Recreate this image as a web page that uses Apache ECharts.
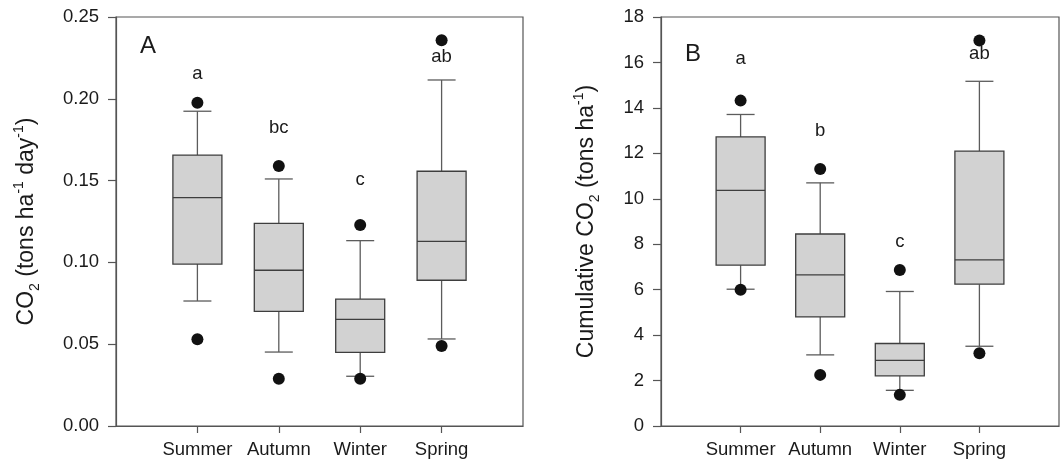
<!DOCTYPE html>
<html>
<head>
<meta charset="utf-8">
<script src="https://cdn.jsdelivr.net/npm/echarts@6/dist/echarts.min.js"></script>
<style>
html,body{margin:0;padding:0;background:#fff;}
#chart{width:1062px;height:463px;}
</style>
</head>
<body>
<div id="chart"></div>
<script>
// ---- Data ----
var categories = ['Summer', 'Autumn', 'Winter', 'Spring'];

// Panel A: CO2 (tons ha-1 day-1)
var aLow     = [0.0764, 0.0452, 0.0304, 0.0532];
var aQ1      = [0.0990, 0.0701, 0.0450, 0.0891];
var aMedian  = [0.1396, 0.0952, 0.0652, 0.1129];
var aQ3      = [0.1656, 0.1239, 0.0776, 0.1557];
var aHigh    = [0.1924, 0.1510, 0.1133, 0.2115];
var aOutHigh = [0.1976, 0.1589, 0.1229, 0.2358];
var aOutLow  = [0.0530, 0.0289, 0.0289, 0.0489];
var aLetters = ['a', 'bc', 'c', 'ab'];
var aLetterY = [0.2152, 0.1823, 0.1502, 0.2257];
var aTicks   = [0, 0.05, 0.10, 0.15, 0.20, 0.25];

// Panel B: Cumulative CO2 (tons ha-1)
var bLow     = [6.02, 3.13, 1.57, 3.51];
var bQ1      = [7.08, 4.80, 2.21, 6.24];
var bMedian  = [10.37, 6.65, 2.89, 7.31];
var bQ3      = [12.72, 8.45, 3.63, 12.10];
var bHigh    = [13.71, 10.70, 5.92, 15.17];
var bOutHigh = [14.32, 11.31, 6.87, 16.97];
var bOutLow  = [6.00, 2.25, 1.37, 3.20];
var bLetters = ['a', 'b', 'c', 'ab'];
var bLetterY = [16.15, 13.0, 8.1, 16.39];
var bTicks   = [0, 2, 4, 6, 8, 10, 12, 14, 16, 18];

// ---- Build ----
var FONT = "'Liberation Sans', Arial, Helvetica, sans-serif";
var AXIS_COLOR = '#555';
var TEXT_COLOR = '#1a1a1a';
var axisCats = [''].concat(categories).concat(['']);

function boxData(low, q1, med, q3, high) {
  return categories.map(function (c, i) {
    return [i + 1, low[i], q1[i], med[i], q3[i], high[i]];
  });
}
function pointData(vals) {
  return vals.map(function (v, i) { return [i + 1, v]; });
}
function letterData(letters, ys) {
  return letters.map(function (l, i) { return [i + 1, ys[i], l]; });
}

function renderBox(params, api) {
  var x = api.value(0);
  var pLow = api.coord([x, api.value(1)]);
  var pQ1 = api.coord([x, api.value(2)]);
  var pMed = api.coord([x, api.value(3)]);
  var pQ3 = api.coord([x, api.value(4)]);
  var pHigh = api.coord([x, api.value(5)]);
  var bw = 49, cw = 28;
  var cx = pMed[0];
  var whisk = {stroke: '#5c5c5c', lineWidth: 1.3};
  var edge = {stroke: '#3e3e3e', lineWidth: 1.3};
  return {
    type: 'group',
    children: [
      {type: 'line', shape: {x1: cx, y1: pHigh[1], x2: cx, y2: pQ3[1]}, style: whisk},
      {type: 'line', shape: {x1: cx, y1: pQ1[1], x2: cx, y2: pLow[1]}, style: whisk},
      {type: 'line', shape: {x1: cx - cw / 2, y1: pHigh[1], x2: cx + cw / 2, y2: pHigh[1]}, style: whisk},
      {type: 'line', shape: {x1: cx - cw / 2, y1: pLow[1], x2: cx + cw / 2, y2: pLow[1]}, style: whisk},
      {type: 'rect', shape: {x: cx - bw / 2, y: pQ3[1], width: bw, height: pQ1[1] - pQ3[1]},
        style: {fill: '#d2d2d2', stroke: '#3e3e3e', lineWidth: 1.3}},
      {type: 'line', shape: {x1: cx - bw / 2, y1: pMed[1], x2: cx + bw / 2, y2: pMed[1]}, style: edge}
    ]
  };
}

function xAxisDef(gi) {
  return {
    type: 'category', gridIndex: gi, data: axisCats, boundaryGap: false,
    axisLine: {show: true, lineStyle: {color: AXIS_COLOR, width: 1.2}},
    axisTick: {show: true, length: 7, lineStyle: {color: AXIS_COLOR, width: 1.2},
      interval: function (idx, val) { return val !== ''; }},
    axisLabel: {show: true, interval: 0, margin: 14, color: TEXT_COLOR, fontSize: 18.5, fontFamily: FONT},
    splitLine: {show: false}
  };
}
function yAxisDef(gi, ticks, fmt, name, gap) {
  return {
    type: 'value', gridIndex: gi, min: ticks[0], max: ticks[ticks.length - 1],
    interval: ticks[1] - ticks[0],
    axisLine: {show: true, lineStyle: {color: AXIS_COLOR, width: 1.2}},
    axisTick: {show: true, length: 8, lineStyle: {color: AXIS_COLOR, width: 1.2}},
    axisLabel: {margin: 17, color: TEXT_COLOR, fontSize: 18.5, fontFamily: FONT, formatter: fmt},
    splitLine: {show: false},
    name: name, nameLocation: 'middle', nameRotate: 90, nameGap: gap,
    nameTextStyle: {
      color: TEXT_COLOR, fontFamily: FONT, fontSize: 23,
      rich: {
        n: {fontSize: 23, fontFamily: FONT, color: TEXT_COLOR},
        s: {fontSize: 14, fontFamily: FONT, color: TEXT_COLOR, verticalAlign: 'bottom', padding: [0, 0, -4, 0]},
        p: {fontSize: 14, fontFamily: FONT, color: TEXT_COLOR, verticalAlign: 'top', padding: [-3, 0, 0, 0]}
      }
    }
  };
}

function seriesFor(gi, box, outHigh, outLow, letters) {
  return [
    {type: 'custom', xAxisIndex: gi, yAxisIndex: gi, renderItem: renderBox, data: box, z: 2, silent: true},
    {type: 'scatter', xAxisIndex: gi, yAxisIndex: gi, symbol: 'circle', symbolSize: 12,
      itemStyle: {color: '#111', opacity: 1}, data: pointData(outHigh).concat(pointData(outLow)), z: 3, silent: true},
    {type: 'scatter', xAxisIndex: gi, yAxisIndex: gi, symbolSize: 0, data: letters, z: 4, silent: true,
      itemStyle: {opacity: 1},
      label: {show: true, position: 'inside', color: TEXT_COLOR, fontSize: 18.5, fontFamily: FONT, opacity: 1,
        formatter: function (p) { return p.data[2]; }}}
  ];
}

var option = {
  animation: false,
  backgroundColor: '#fff',
  grid: [
    {left: 116, top: 17, width: 407, height: 409, show: true, borderColor: AXIS_COLOR, borderWidth: 1.2, containLabel: false},
    {left: 661, top: 17, width: 408, height: 409, show: true, borderColor: AXIS_COLOR, borderWidth: 1.2, containLabel: false}
  ],
  xAxis: [xAxisDef(0), xAxisDef(1)],
  yAxis: [
    yAxisDef(0, aTicks, function (v) { return v.toFixed(2); },
      '{n|CO}{s|2}{n| (tons ha}{p|-1}{n| day}{p|-1}{n|)}', 78),
    yAxisDef(1, bTicks, function (v) { return String(v); },
      '{n|Cumulative CO}{s|2}{n| (tons ha}{p|-1}{n|)}', 63)
  ],
  graphic: [
    {type: 'text', left: 140, top: 34, style: {text: 'A', font: '24px ' + FONT, fill: TEXT_COLOR}},
    {type: 'text', left: 685, top: 42, style: {text: 'B', font: '24px ' + FONT, fill: TEXT_COLOR}}
  ],
  series: []
    .concat(seriesFor(0, boxData(aLow, aQ1, aMedian, aQ3, aHigh), aOutHigh, aOutLow, letterData(aLetters, aLetterY)))
    .concat(seriesFor(1, boxData(bLow, bQ1, bMedian, bQ3, bHigh), bOutHigh, bOutLow, letterData(bLetters, bLetterY)))
};

var chart = echarts.init(document.getElementById('chart'), null, {renderer: 'canvas'});
chart.setOption(option);
</script>
</body>
</html>
